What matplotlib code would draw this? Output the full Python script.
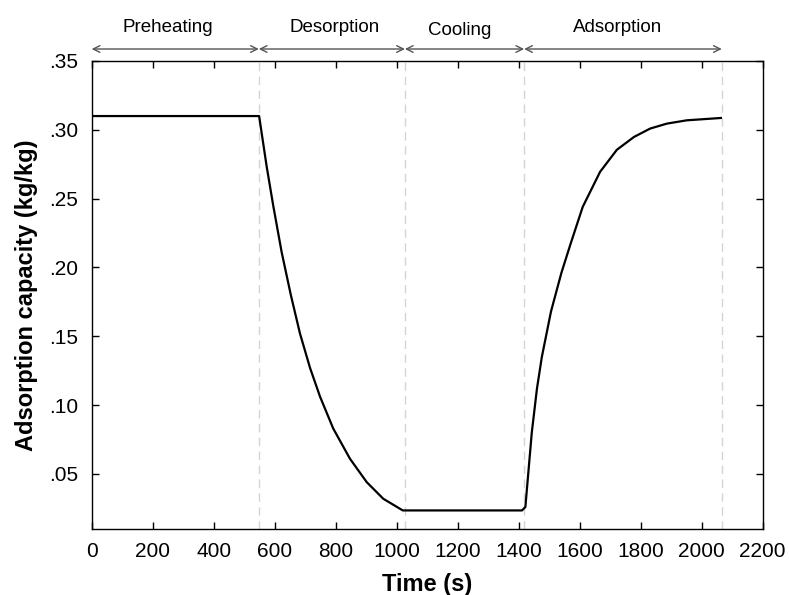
import matplotlib
matplotlib.use("Agg")
import matplotlib.pyplot as plt
from matplotlib.ticker import FuncFormatter

plt.rcParams['font.family'] = ['Liberation Sans', 'DejaVu Sans']

# Data
desorb_t = [0, 549, 574, 596, 623, 653, 683, 716, 749, 792, 847, 902, 956, 1020]
desorb_q = [0.310, 0.310, 0.273, 0.244, 0.211, 0.180, 0.152, 0.127, 0.106,
            0.083, 0.061, 0.044, 0.032, 0.0235]
adsorb_t = [1411, 1422, 1443, 1460, 1476, 1506, 1540, 1570, 1610, 1667,
            1722, 1778, 1831, 1886, 1951, 2063]
adsorb_q = [0.0235, 0.026, 0.080, 0.112, 0.135, 0.168, 0.196, 0.217, 0.244,
            0.2695, 0.2855, 0.2948, 0.3009, 0.3045, 0.3069, 0.3086]

phase_names = ["Preheating", "Desorption", "Cooling", "Adsorption"]
phase_bounds = [0, 548, 1027, 1418, 2066]
phase_label_x = [250, 798, 1206, 1725]

x_ticks = list(range(0, 2201, 200))
y_ticks = [0.05, 0.10, 0.15, 0.20, 0.25, 0.30, 0.35]

fig = plt.figure(figsize=(7.89, 5.95), dpi=100)
ax = fig.add_axes([0.1162, 0.1109, 0.8504, 0.7866])

ax.plot(desorb_t + adsorb_t, desorb_q + adsorb_q, color='black', lw=1.6,
        zorder=3, solid_joinstyle='round')

for b in phase_bounds[1:]:
    ax.axvline(b, color='#d4d4d4', lw=1.0, ls=(0, (6, 4)), zorder=1)

ax.set_xlim(0, 2200)
ax.set_ylim(0.01, 0.35)
ax.set_xticks(x_ticks)
ax.set_yticks(y_ticks)
ax.yaxis.set_major_formatter(FuncFormatter(lambda v, p: ("%.2f" % v).lstrip('0')))
ax.tick_params(direction='in', length=5, width=1, top=True, right=True,
               labelsize=15, colors='black')
ax.tick_params(axis='x', pad=9)
ax.tick_params(axis='y', pad=10)
for s in ax.spines.values():
    s.set_linewidth(1.0)

ax.set_xlabel("Time (s)", fontsize=17, fontweight='bold')
ax.set_ylabel("Adsorption capacity (kg/kg)", fontsize=17, fontweight='bold')
ax.xaxis.set_label_coords(0.5, -0.094)
ax.yaxis.set_label_coords(-0.080, 0.5)

# Phase arrows and labels above the axes
trans = ax.get_xaxis_transform()
for i, name in enumerate(phase_names):
    x0, x1 = phase_bounds[i], phase_bounds[i + 1]
    ax.annotate("", xy=(x1, 1.0256), xytext=(x0, 1.0256), xycoords=trans,
                textcoords=trans,
                arrowprops=dict(arrowstyle='<->', color='#555555', lw=1.0,
                                shrinkA=0, shrinkB=0, mutation_scale=12),
                annotation_clip=False)
    ax.text(phase_label_x[i], 1.090 if name != "Cooling" else 1.084, name,
            transform=trans, ha='center', va='top', fontsize=13.5)

fig.savefig("out.png", dpi=100)
